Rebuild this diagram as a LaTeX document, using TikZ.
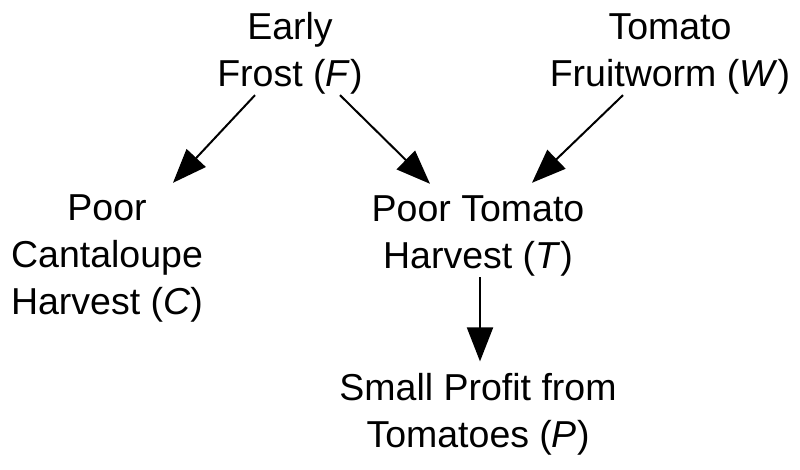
\documentclass[tikz,border=0pt]{standalone}
\usepackage{fontspec}
\setmainfont{Liberation Sans}
\usetikzlibrary{arrows.meta,calc}
\begin{document}
\begin{tikzpicture}[
          x = 0.5pt, y = -0.5pt,
every node/.style = {inner sep=0pt, font=\fontsize{18.75}{23.5}\selectfont},
      event/.style = {align=center, anchor=base},
      cause/.style = {-{Triangle[length=17pt,width=13pt]}, line width=1pt}
                    ]
\useasboundingbox (0,0) rectangle (800,470);
\node (F) [event] at (290,87) {Early\\Frost (\textit{F})};
\node (W) [event] at (670,87) {Tomato\\Fruitworm (\textit{W})};
\node (C) [event] at (107,315) {Poor\\Cantaloupe\\Harvest (\textit{C})};
\node (T) [event] at (478,269) {Poor Tomato\\Harvest (\textit{T})};
\node (P) [event] at (478,448) {Small Profit from\\Tomatoes (\textit{P})};
\draw[cause] ($(F.south)+(-35,0)$) to ($(C.north)+(66,-12)$);
\draw[cause] ($(F.south)+(50,0)$) to ($(T.north)+(-48,-12)$);
\draw[cause] ($(W.south)+(-47,0)$) to ($(T.north)+(54,-13)$);
\draw[cause] ($(T.south)+(2,0)$) to ($(P.north)+(2,-12)$);
\end{tikzpicture}
\end{document}
